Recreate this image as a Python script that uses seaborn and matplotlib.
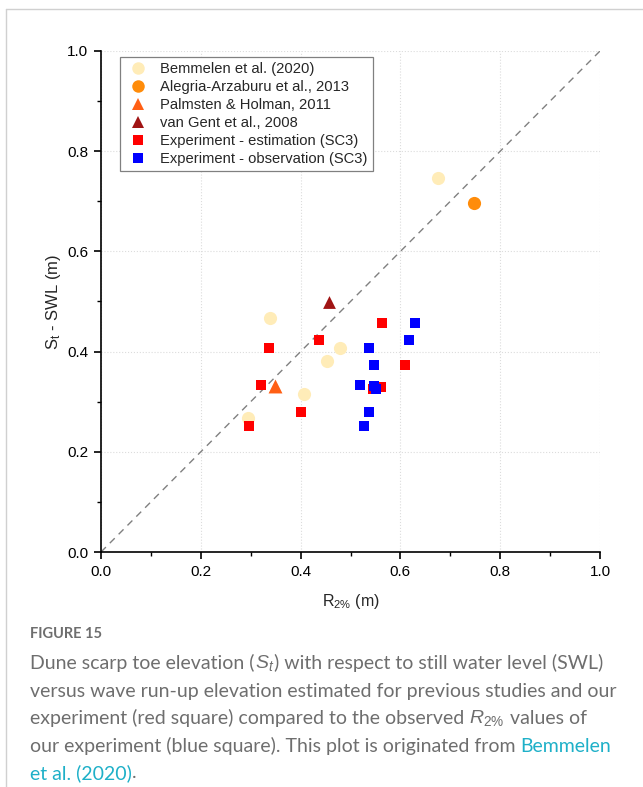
import matplotlib
matplotlib.use("Agg")
import matplotlib.pyplot as plt
from matplotlib.lines import Line2D
import seaborn as sns
import numpy as np
import pandas as pd

# ---------------- data ----------------
bem_x = [0.675, 0.338, 0.479, 0.452, 0.407, 0.295]
bem_y = [0.746, 0.468, 0.407, 0.381, 0.316, 0.267]
ala_x = [0.747]
ala_y = [0.696]
pal_x = [0.349]
pal_y = [0.331]
gent_x = [0.456]
gent_y = [0.500]
est_x = [0.564, 0.436, 0.336, 0.609, 0.321, 0.561, 0.546, 0.400, 0.297]
est_y = [0.457, 0.424, 0.408, 0.373, 0.334, 0.330, 0.325, 0.279, 0.251]
obs_x = [0.629, 0.618, 0.538, 0.548, 0.519, 0.548, 0.551, 0.538, 0.528]
obs_y = [0.457, 0.424, 0.408, 0.373, 0.334, 0.331, 0.325, 0.279, 0.251]

labels = ["Bemmelen et al. (2020)", "Alegria-Arzaburu et al., 2013",
          "Palmsten & Holman, 2011", "van Gent et al., 2008",
          "Experiment - estimation (SC3)", "Experiment - observation (SC3)"]
ticks = [0.0, 0.2, 0.4, 0.6, 0.8, 1.0]

sns.set_theme(style="white")
plt.rcParams['font.family'] = ['Liberation Sans', 'DejaVu Sans']
plt.rcParams['mathtext.fontset'] = 'custom'
plt.rcParams['mathtext.rm'] = 'Liberation Sans'
plt.rcParams['mathtext.it'] = 'Liberation Sans:italic'

fig = plt.figure(figsize=(6.43, 7.87), dpi=100)
ax = fig.add_axes([101/643, 1-552/787, 499/643, 501/787])

# reference 1:1 line
ax.plot([0, 1], [0, 1], color='#808080', linestyle=(0, (5, 4)), linewidth=1.0, zorder=2)

groups = [
    (bem_x, bem_y, labels[0], '#FFECB8', 'o', 90),
    (ala_x, ala_y, labels[1], '#FF8C0A', 'o', 90),
    (pal_x, pal_y, labels[2], '#FF5F14', '^', 100),
    (gent_x, gent_y, labels[3], '#A01414', '^', 85),
    (est_x, est_y, labels[4], '#FF0000', 's', 62),
    (obs_x, obs_y, labels[5], '#0000FF', 's', 62),
]
handles = []
for i, (xs, ys, lab, col, mk, s) in enumerate(groups):
    df = pd.DataFrame({"x": xs, "y": ys})
    sns.scatterplot(data=df, x="x", y="y", ax=ax, color=col, marker=mk, s=s,
                    linewidth=0, zorder=3 + i, legend=False)
    handles.append(Line2D([], [], linestyle='none', marker=mk, color=col,
                          markeredgewidth=0, markersize=(9 if mk != 's' else 7.5), label=lab))

ax.set_xlim(0, 1)
ax.set_ylim(0, 1)
ax.set_xticks(ticks)
ax.set_yticks(ticks)
ax.set_xticklabels([f"{t:.1f}" for t in ticks])
ax.set_yticklabels([f"{t:.1f}" for t in ticks])
ax.set_xticks(np.arange(0.1, 1.0, 0.2), minor=True)
ax.set_yticks(np.arange(0.1, 1.0, 0.2), minor=True)
ax.tick_params(which='major', direction='out', length=5, width=1.2, color='black',
               labelsize=11, labelcolor='black', bottom=True, left=True, pad=4)
ax.tick_params(which='minor', direction='out', length=3, width=1.0, color='black',
               bottom=True, left=True)
for sp in ['top', 'right']:
    ax.spines[sp].set_visible(False)
for sp in ['left', 'bottom']:
    ax.spines[sp].set_color('black')
    ax.spines[sp].set_linewidth(1.2)

ax.grid(True, which='major', color='#dcdcdc', linestyle=':', linewidth=0.8)
ax.set_axisbelow(True)

ax.set_xlabel(r"R$_{\mathregular{2\%}}$ (m)", fontsize=11.5, labelpad=9.5)
ax.set_ylabel(r"S$_{\mathregular{t}}$ - SWL (m)", fontsize=12, labelpad=3)

leg = ax.legend(handles=handles, loc='upper left', bbox_to_anchor=(0.038, 0.988),
                fontsize=10.6, frameon=True, fancybox=False, edgecolor='#808080',
                framealpha=1, labelspacing=0.27, handletextpad=0.7,
                borderpad=0.35, handlelength=1.7, borderaxespad=0)
leg.get_frame().set_linewidth(0.9)

# page border lines
fig.add_artist(Line2D([6/643, 6/643], [0, 1-9/787], color='#d0d0d0', linewidth=1))
fig.add_artist(Line2D([6/643, 1], [1-9/787, 1-9/787], color='#d0d0d0', linewidth=1))

# caption
cap_font = ['Lato', 'DejaVu Sans']
gray = '#6e6e6e'
teal = '#1EB0C8'
fig.text(30/643, 1-634/787, "FIGURE 15", fontsize=10.5, fontweight='bold',
         color='#6e6e6e', family=cap_font, va='center')

fig.canvas.draw()
renderer = fig.canvas.get_renderer()

def draw_line(y_px, segments, x_px=30, size=14):
    x = x_px / 643
    for txt, col in segments:
        t = fig.text(x, 1 - y_px/787, txt, fontsize=size, color=col,
                     family=cap_font, va='center')
        bb = t.get_window_extent(renderer=renderer)
        x += bb.width / fig.bbox.width

lines = [
    (663, [("Dune scarp toe elevation (", gray), (r"$\mathit{S_t}$", gray),
           (") with respect to still water level (SWL)", gray)]),
    (691, [("versus wave run-up elevation estimated for previous studies and our", gray)]),
    (718, [("experiment (red square) compared to the observed ", gray),
           (r"$\mathit{R_{2\%}}$", gray), (" values of", gray)]),
    (746, [("our experiment (blue square). This plot is originated from ", gray),
           ("Bemmelen", teal)]),
    (773, [("et al. (2020)", teal), (".", gray)]),
]
for y, segs in lines:
    draw_line(y, segs)

fig.savefig("out.png", dpi=100)
